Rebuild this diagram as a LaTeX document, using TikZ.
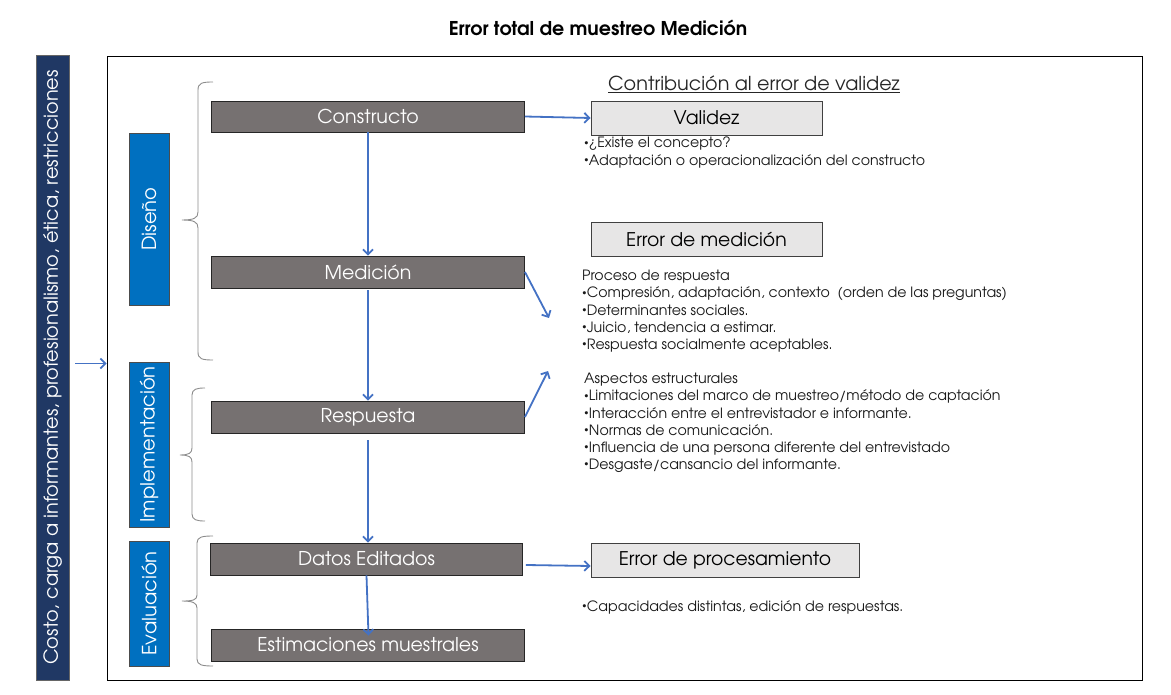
\documentclass[tikz,border=0pt]{standalone}
\usepackage{fontspec}
\setmainfont{TeX Gyre Adventor}
\usetikzlibrary{arrows.meta,calc}
\definecolor{navy}{HTML}{203864}
\definecolor{phaseblue}{HTML}{0070C0}
\definecolor{stepgray}{HTML}{767171}
\definecolor{errfill}{HTML}{E7E6E6}
\definecolor{arrblue}{HTML}{4472C4}
\definecolor{bracegray}{HTML}{8C8C8C}
\newcommand\blt{\raisebox{0.35ex}{\fontsize{9}{9}\selectfont •}}
\tikzset{
  stepbox/.style={draw=black!85, line width=0.9pt, fill=stepgray, text=white,
    font=\fontsize{19}{22}\selectfont, inner sep=0pt},
  phasebox/.style={draw=black!70, line width=0.8pt, fill=phaseblue, text=white,
    font=\fontsize{19.5}{22}\selectfont, inner sep=0pt},
  errbox/.style={draw=black!75, line width=0.9pt, fill=errfill, text=black,
    font=\fontsize{18.8}{21}\selectfont, inner sep=0pt},
  listtext/.style={anchor=north west, align=left, inner sep=0pt, text=black!90,
    font=\fontsize{14.2}{17.2}\selectfont},
  arr/.style={draw=arrblue, line width=1.8pt, -{Straight Barb[length=5pt,width=10pt]}},
  bracepath/.style={draw=bracegray, line width=0.9pt},
}
\begin{document}
\begin{tikzpicture}[x=1pt,y=-1pt]
\useasboundingbox (0,0) rectangle (1171,695);

% title
\node[font=\bfseries\fontsize{19}{22}\selectfont] (title) at (598,28) {Error total de muestreo Medición};

% left bar
\node[fill=navy, draw=black!60, line width=0.6pt, minimum width=625pt, minimum height=33pt, inner sep=0pt,
  text=white, font=\fontsize{19.3}{22}\selectfont, rotate=90] (bar) at (52.5,367.5)
  {Costo, carga a informantes, profesionalismo, ética, restricciones};

% frame
\node[draw=black, line width=0.9pt, minimum width=1035pt, minimum height=624pt, inner sep=0pt] (frame) at (624.5,368) {};

\draw[arr] ([xshift=6pt,yshift=4pt]bar.south) -- ([yshift=4pt]bar.south -| frame.west);

% phase boxes
\node[phasebox, minimum width=172pt, minimum height=40pt, rotate=90] (diseno) at (149,219) {Diseño};
\node[phasebox, minimum width=165pt, minimum height=40pt, rotate=90] (impl) at (149,444.5) {Implementación};
\node[phasebox, minimum width=125pt, minimum height=40pt, rotate=90] (eval) at (149,603.5) {Evaluación};

% braces
\draw[bracepath] (213,82) .. controls (202,82) and (198,83) .. (198,90) -- (198,212)
  .. controls (198,218) and (194,220) .. (182,220) .. controls (194,220) and (198,222) .. (198,228)
  -- (198,352) .. controls (198,359) and (202,360) .. (213,360);
\draw[bracepath] (205,388) .. controls (197,388) and (192,389) .. (192,395) -- (192,448)
  .. controls (192,453) and (189,455) .. (180,455) .. controls (189,455) and (192,457) .. (192,462)
  -- (192,514) .. controls (192,520) and (197,521) .. (205,521);
\draw[bracepath] (213,536) .. controls (202,536) and (197,537) .. (197,543) -- (197,595)
  .. controls (197,600) and (193,601) .. (182,601) .. controls (193,601) and (197,603) .. (197,608)
  -- (197,659) .. controls (197,665) and (202,666) .. (213,666);

% step boxes
\node[stepbox, minimum width=313pt, minimum height=31pt] (constructo) at (368,116.5) {Constructo};
\node[stepbox, minimum width=313pt, minimum height=32pt] (medicion) at (368,272) {Medición};
\node[stepbox, minimum width=313pt, minimum height=32pt] (respuesta) at (368,417) {Respuesta};
\node[stepbox, minimum width=312pt, minimum height=32pt] (datos) at (366.5,559) {Datos Editados};
\node[stepbox, minimum width=313pt, minimum height=32pt] (estim) at (368,645) {Estimaciones muestrales};

% error boxes
\node[font=\fontsize{19.2}{22}\selectfont, text=black!85] (contrib) at (754,84) {\underline{Contribución al error de validez}};
\node[errbox, minimum width=231pt, minimum height=34pt] (validez) at (706.5,118) {Validez};
\node[errbox, minimum width=231pt, minimum height=34pt] (errmed) at (706.5,239) {Error de medición};
\node[errbox, minimum width=268pt, minimum height=34pt] (errproc) at (725,560) {Error de procesamiento};

% text lists
\node[listtext] (validezlist) at (584,137) {\blt¿Existe el concepto?\\\blt Adaptación o operacionalización del constructo};
\node[listtext] (medlist) at (582,270) {Proceso de respuesta\\\blt Compresión, adaptación, contexto \ (orden de las preguntas)\\\blt Determinantes sociales.\\\blt Juicio, tendencia a estimar.\\\blt Respuesta socialmente aceptables.};
\node[listtext] (asplist) at (584,373) {Aspectos estructurales\\\blt Limitaciones del marco de muestreo/método de captación\\\blt Interacción entre el entrevistador e informante.\\\blt Normas de comunicación.\\\blt Influencia de una persona diferente del entrevistado\\\blt Desgaste/cansancio del informante.};
\node[listtext] (proclist) at (582,600) {\blt Capacidades distintas, edición de respuestas.};

% connectors
\coordinate (meddown) at (549,318);
\coordinate (respup) at (548,371);
\draw[arr] (constructo.south) -- (medicion.north);
\draw[arr] ([yshift=-2pt]medicion.south) -- (respuesta.north);
\draw[arr] ([yshift=-7pt]respuesta.south) -- (datos.north -| respuesta.south);
\draw[arr] (datos.south) -- ($(estim.north)+(0.5,7)$);
\draw[arr] (constructo.east) -- (validez.west);
\draw[arr] (medicion.east) -- (meddown);
\draw[arr] (respuesta.east) -- (respup);
\draw[arr] ([xshift=3pt,yshift=-6pt]datos.east) -- ([yshift=-6pt]errproc.west);
\end{tikzpicture}
\end{document}
